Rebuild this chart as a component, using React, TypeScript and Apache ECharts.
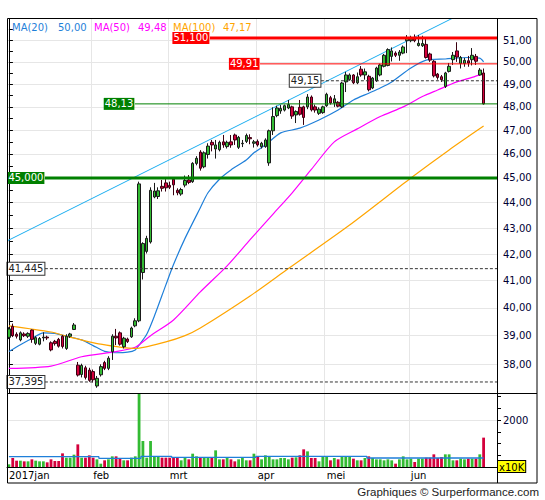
import React, { useEffect, useRef } from "react";
import * as echarts from "echarts";

// ---------- data ----------
const monthNames = ["2017jan", "feb", "mrt", "apr", "mei", "jun"];
const tradingDaysPerMonth = [22, 20, 23, 18, 22, 20];
const emptyDaysAfter = 3;

// [open, close, low, high]
const candles: number[][] = [
  // jan
  [38.94, 39.24, 38.88, 39.3], [39.33, 39.0, 38.95, 39.43], [39.05, 38.98, 38.9, 39.12], [38.85, 39.1, 38.8, 39.15],
  [39.06, 39.0, 38.95, 39.12], [38.98, 39.08, 38.92, 39.12], [39.2, 38.87, 38.75, 39.22], [38.73, 38.93, 38.67, 38.98],
  [38.7, 38.9, 38.66, 38.95], [38.92, 38.95, 38.8, 39.12], [38.95, 38.92, 38.85, 39.0], [38.75, 38.5, 38.45, 38.8],
  [38.8, 38.72, 38.65, 38.85], [38.87, 38.63, 38.58, 38.92], [38.98, 38.62, 38.55, 39.02], [38.55, 38.98, 38.5, 39.05],
  [38.98, 39.06, 38.92, 39.1], [39.22, 39.38, 39.2, 39.45], [37.97, 37.63, 37.58, 38.08], [37.65, 37.96, 37.55, 38.02],
  [37.88, 37.55, 37.48, 37.95], [37.8, 37.45, 37.4, 37.88],
  // feb
  [37.75, 37.47, 37.38, 37.82], [37.26, 37.52, 37.2, 37.6], [37.64, 37.92, 37.58, 38.0], [38.06, 37.86, 37.8, 38.12],
  [37.86, 38.21, 37.8, 38.28], [38.44, 38.98, 38.15, 39.05], [38.98, 38.92, 38.67, 39.24], [39.1, 38.7, 38.65, 39.15],
  [38.61, 38.91, 38.55, 38.96], [38.88, 38.79, 38.74, 38.93], [38.96, 39.27, 38.92, 39.32], [39.35, 39.53, 39.3, 39.62],
  [39.53, 44.76, 39.48, 44.85], [41.3, 42.4, 41.04, 42.45], [42.1, 42.6, 42.02, 42.7], [42.46, 44.5, 42.4, 44.62],
  [44.23, 44.47, 44.18, 44.8], [44.25, 44.48, 44.15, 44.62], [44.66, 44.58, 44.45, 44.92], [44.8, 44.6, 44.45, 44.95],
  // mrt
  [44.7, 44.62, 44.55, 44.85], [44.95, 44.72, 44.3, 45.02], [44.5, 44.4, 44.3, 44.58], [44.35, 44.53, 44.28, 44.6],
  [44.71, 44.9, 44.62, 45.1], [44.92, 44.82, 44.75, 45.12], [44.85, 45.6, 44.8, 45.65], [45.6, 45.81, 45.52, 45.9],
  [46.07, 45.4, 45.3, 46.15], [45.46, 46.04, 45.4, 46.1], [45.97, 46.32, 45.8, 46.44], [46.48, 46.37, 46.1, 46.58],
  [46.2, 46.37, 45.8, 46.58], [46.17, 46.48, 46.1, 46.55], [46.5, 46.37, 46.25, 46.79], [46.3, 46.48, 46.22, 46.55],
  [46.5, 46.37, 46.25, 46.79], [46.79, 46.58, 46.37, 46.85], [46.27, 46.69, 46.2, 46.75], [46.42, 46.44, 46.28, 46.58],
  [46.52, 46.77, 46.45, 46.85], [46.68, 46.63, 46.4, 46.82], [46.44, 46.5, 46.26, 46.58],
  // apr
  [46.52, 46.37, 46.3, 46.6], [46.3, 46.44, 46.22, 46.5], [46.3, 46.58, 46.25, 46.65], [45.62, 46.97, 45.5, 47.02],
  [46.97, 47.58, 46.79, 47.98], [47.62, 47.95, 47.55, 48.05], [47.82, 47.93, 47.7, 48.08], [47.86, 48.05, 47.8, 48.1],
  [47.95, 48.1, 47.9, 48.3], [48.0, 47.6, 47.48, 48.05], [47.65, 47.8, 47.3, 47.85], [47.98, 47.68, 47.62, 48.3],
  [48.0, 47.54, 47.22, 48.05], [48.0, 48.43, 47.9, 48.56], [48.43, 47.87, 47.8, 48.5], [48.0, 47.86, 47.75, 48.1],
  [47.72, 47.9, 47.65, 47.98], [47.75, 48.0, 47.7, 48.05],
  // mei
  [48.05, 48.55, 48.0, 48.62], [48.4, 48.17, 48.1, 48.48], [48.17, 48.35, 48.0, 48.52], [48.2, 48.03, 47.98, 48.25],
  [48.0, 49.05, 47.95, 49.1], [49.1, 49.41, 48.65, 49.55], [49.2, 49.41, 49.15, 49.48], [49.41, 49.06, 49.0, 49.45],
  [49.06, 49.33, 49.0, 49.52], [49.67, 49.41, 49.33, 49.81], [49.41, 49.55, 49.2, 49.7], [49.35, 48.75, 48.68, 49.42],
  [48.83, 49.27, 48.78, 49.32], [49.15, 49.72, 49.1, 49.78], [49.41, 49.86, 49.35, 49.92], [49.8, 50.3, 49.75, 50.36],
  [49.84, 50.56, 49.8, 50.62], [50.25, 50.5, 50.02, 50.66], [50.4, 50.3, 50.22, 50.48], [50.3, 50.45, 50.05, 50.54],
  [50.4, 50.68, 50.35, 50.75], [50.97, 51.12, 50.4, 51.23],
  // jun
  [50.97, 51.05, 50.9, 51.2], [51.1, 50.97, 50.9, 51.26], [50.75, 50.85, 50.7, 51.23], [50.74, 50.84, 50.68, 51.2],
  [50.8, 50.2, 50.15, 51.08], [50.36, 50.08, 50.0, 50.42], [50.03, 49.37, 49.3, 50.08], [49.45, 49.3, 49.2, 49.5],
  [49.33, 49.2, 49.1, 49.41], [48.9, 49.5, 48.83, 49.55], [49.57, 49.8, 49.52, 49.95], [50.1, 50.3, 49.86, 50.45],
  [50.5, 50.22, 50.0, 50.9], [49.93, 50.2, 49.7, 50.27], [49.93, 50.07, 49.78, 50.18], [50.05, 49.95, 49.78, 50.27],
  [50.1, 50.3, 49.84, 50.63], [50.25, 50.03, 49.86, 50.36], [49.41, 49.63, 49.38, 49.72], [49.5, 48.13, 48.1, 49.7],
];

// volume, x10K
const volumes: number[] = [
  113, 383, 269, 269, 241, 241, 326, 269, 241, 241, 199, 326, 255, 255, 581, 397, 397, 525, 964, 397, 397, 496,
  397, 326, 142, 284, 326, 454, 454, 355, 284, 284, 397, 454, 3150, 1106, 397, 1106, 454, 454, 397, 397,
  397, 425, 383, 284, 383, 326, 567, 454, 383, 383, 383, 383, 709, 326, 326, 383, 326, 241, 326, 383, 284, 284, 567,
  454, 326, 496, 454, 326, 326, 383, 383, 326, 397, 411, 496, 752, 666, 383, 383, 241, 425,
  425, 284, 383, 326, 425, 425, 425, 355, 284, 284, 383, 454, 383, 326, 326, 284, 326, 284, 142, 326, 454, 326,
  355, 213, 355, 355, 397, 397, 539, 383, 425, 539, 539, 284, 284, 355, 326, 355, 355, 355, 539, 1250,
];

// moving averages: [day index, value]
const ma20: number[][] = [
  [0, 38.44], [3, 38.68], [6, 38.9], [9, 39.1], [12, 39.08], [15, 38.98], [19, 38.85], [22, 38.65], [25, 38.45],
  [28, 38.4], [31, 38.42], [33, 38.5], [34, 38.67], [36, 39.05], [38, 39.7], [41, 40.84], [43, 41.6], [46, 42.6],
  [50, 43.8], [52, 44.4], [55, 44.95], [58, 45.33], [62, 45.74], [64, 46.04], [67, 46.37], [71, 46.88], [76, 47.08],
  [81, 47.43], [86, 47.86], [90, 48.3], [94, 48.6], [97, 48.83], [100, 49.1], [105, 49.72], [109, 50.08],
  [114, 50.13], [120, 50.2], [123, 50.17], [124, 50.0],
];
const ma50: number[][] = [
  [0, 37.86], [11, 37.94], [19, 38.26], [28, 38.44], [33, 38.59], [37, 39.0], [43, 39.56], [50, 40.58], [57, 41.55],
  [63, 42.55], [69, 43.55], [74, 44.4], [79, 45.35], [85, 46.5], [91, 47.05], [97, 47.58], [103, 48.0], [108, 48.45],
  [112, 48.74], [117, 49.1], [121, 49.3], [124, 49.48],
];
const ma100: number[][] = [
  [0, 39.35], [11, 39.13], [15, 38.98], [24, 38.7], [33, 38.55], [41, 38.78], [46, 39.0], [50, 39.27], [63, 40.43],
  [73, 41.45], [89, 43.12], [105, 45.0], [115, 46.16], [124, 47.17],
];
// average volume: [first day, last day, value]
const volumeAverage: number[][] = [
  [0, 23, 438], [24, 34, 370], [35, 42, 455], [43, 64, 411], [65, 93, 454], [94, 124, 383],
];
// trend channel line: [day index, price]
const trendLine: number[][] = [[-0.5, 42.5], [124, 52.76]];

// horizontal levels
const levelValues = [51.1, 49.91, 49.15, 48.13, 45.0, 41.445, 37.395];
const levelDecimals = [3, 2, 2, 2, 3, 3, 3];

const priceLabels = [38, 39, 40, 41, 42, 43, 44, 45, 46, 47, 48, 49, 50, 51];
const priceTickMarks = [37.5, 38, 38.5, 39, 39.5, 40, 40.5, 41, 41.5, 42, 42.5, 43, 43.5, 44, 44.5, 45, 45.5, 46, 46.5, 47, 47.5, 48, 48.5, 49, 49.5, 50, 50.5, 51, 51.5];
const volumeLabels = [2000];
const volumeTickMarks = [500, 1000, 1500, 2000, 2500, 3000];

// ---------- look ----------
const FONT = "DejaVu Sans";
const BLUE = "#1F7FD9";
const MAGENTA = "#FF00FF";
const ORANGE = "#FFA500";
const UP = "#33BB33";
const DOWN = "#D4003C";
const GRID = "#E6E6E6";

// label anchor (day index of the box's right edge), kind, width, dashed
const levelLook = [
  { start: 52.5, kind: "red", width: 3, dashed: false },
  { start: 65.6, kind: "red", width: 1, dashed: false },
  { start: 81.5, kind: "box", width: 1, dashed: true },
  { start: 32.9, kind: "green", width: 1, dashed: false },
  { start: 9.4, kind: "green", width: 3, dashed: false },
  { start: 9.4, kind: "box", width: 1, dashed: true },
  { start: 9.4, kind: "box", width: 1, dashed: true },
];

const comma = (v: number, d: number) => v.toFixed(d).replace(".", ",");

function buildOption() {
  const categories: string[] = [];
  monthNames.forEach((m, k) => {
    for (let d = 1; d <= tradingDaysPerMonth[k]; d++) categories.push(`${m}|${d}`);
  });
  for (let d = 1; d <= emptyDaysAfter; d++) categories.push(`jun|${tradingDaysPerMonth[5] + d}`);
  const monthStarts = categories.map((c, i) => (c.endsWith("|1") ? i : -1)).filter((i) => i >= 0);
  const isMonthStart = (i: number) => monthStarts.indexOf(i) >= 0;
  const xMax = categories.length - 0.5;

  const priceMin = 37.023;
  const priceMax = 51.984;

  const splitX = { show: true, interval: (i: number) => isMonthStart(i), lineStyle: { color: GRID, width: 1 } };

  const volData = volumes.map((v, i) => ({
    value: v,
    itemStyle: { color: candles[i][1] >= candles[i][0] ? UP : DOWN },
  }));
  const volAvgData = candles.map((_, i) => {
    const seg = volumeAverage.find((s) => i >= s[0] && i <= s[1]);
    return seg ? seg[2] : null;
  });

  const levelSeries = levelValues.map((v, k) => {
    const look = levelLook[k];
    const col = look.kind === "red" ? "#FF0000" : look.kind === "green" ? "#008000" : "#333333";
    const labelStyle =
      look.kind === "box"
        ? { backgroundColor: "#FFFFFF", color: "#222222", borderColor: "#333333", borderWidth: 1 }
        : { backgroundColor: col, color: "#FFFFFF" };
    return {
      type: "line",
      xAxisIndex: 1,
      yAxisIndex: 0,
      symbol: "rect",
      symbolSize: 1,
      itemStyle: { color: "rgba(0,0,0,0)" },
      silent: true,
      z: 6,
      lineStyle: { color: col, width: look.width, type: look.dashed ? [3, 2] : "solid" },
      label: { show: false },
      data: [
        {
          value: [look.start, v],
          label: {
            show: true,
            position: "left",
            distance: 0,
            formatter: comma(v, levelDecimals[k]),
            fontFamily: FONT,
            fontSize: 10,
            lineHeight: 11,
            padding: [1, 1, 0, 1],
            ...labelStyle,
          },
        },
        { value: [xMax, v] },
      ],
    };
  });

  const maSeries = [
    { data: ma20, color: BLUE },
    { data: ma50, color: MAGENTA },
    { data: ma100, color: ORANGE },
  ].map((m) => ({
    type: "line",
    xAxisIndex: 1,
    yAxisIndex: 0,
    data: m.data,
    symbol: "none",
    smooth: 0.25,
    silent: true,
    z: 2,
    lineStyle: { color: m.color, width: 1.2 },
  }));

  const last = (a: number[][]) => a[a.length - 1][1];
  const legendItems = [
    { x: 12, text: "MA(20)", color: BLUE },
    { x: 58, text: comma(last(ma20), 2), color: BLUE },
    { x: 94, text: "MA(50)", color: MAGENTA },
    { x: 138, text: comma(last(ma50), 2), color: MAGENTA },
    { x: 173, text: "MA(100)", color: ORANGE },
    { x: 223, text: comma(last(ma100), 2), color: ORANGE },
  ];

  return {
    animation: false,
    backgroundColor: "#FFFFFF",
    textStyle: { fontFamily: FONT },
    grid: [
      { left: 7, top: 19, width: 490, height: 374 },
      { left: 7, top: 393, width: 490, height: 74 },
    ],
    xAxis: [
      {
        type: "category",
        gridIndex: 0,
        data: categories,
        boundaryGap: true,
        axisLine: { show: false },
        axisTick: { show: false },
        axisLabel: { show: false },
        splitLine: splitX,
      },
      { type: "value", gridIndex: 0, min: -0.5, max: xMax, show: false },
      {
        type: "category",
        gridIndex: 1,
        data: categories,
        boundaryGap: true,
        axisLine: { show: true, lineStyle: { color: "#000", width: 1 } },
        axisTick: { show: false },
        axisLabel: {
          interval: (i: number) => isMonthStart(i),
          formatter: (v: string) => v.split("|")[0],
          align: "left",
          fontSize: 10,
          fontFamily: FONT,
          color: "#000000",
          margin: 3,
        },
        splitLine: splitX,
      },
    ],
    yAxis: [
      {
        type: "log",
        logBase: 10,
        gridIndex: 0,
        position: "right",
        min: priceMin,
        max: priceMax,
        axisLine: { show: true, lineStyle: { color: "#000" } },
        axisTick: { show: true, customValues: priceTickMarks, length: 4, lineStyle: { color: "#000" } },
        axisLabel: {
          customValues: priceLabels,
          formatter: (v: number) => comma(v, 2),
          fontSize: 10,
          fontFamily: FONT,
          color: "#000033",
          margin: 6,
        },
        splitLine: { show: false },
      },
      {
        type: "log",
        logBase: 10,
        gridIndex: 0,
        position: "right",
        min: priceMin,
        max: priceMax,
        axisLine: { show: false },
        axisTick: { show: false, customValues: priceLabels },
        axisLabel: { show: false, customValues: priceLabels },
        splitLine: { show: true, lineStyle: { color: GRID, width: 1 } },
      },
      {
        type: "value",
        gridIndex: 1,
        position: "right",
        min: 0,
        max: 3150,
        axisLine: { show: true, lineStyle: { color: "#000" } },
        axisTick: { show: true, customValues: volumeTickMarks, length: 4, lineStyle: { color: "#000" } },
        axisLabel: {
          customValues: volumeLabels,
          formatter: (v: number) => String(v),
          fontSize: 10,
          fontFamily: FONT,
          color: "#000033",
          margin: 6,
        },
        splitLine: { show: false },
      },
      {
        type: "value",
        gridIndex: 1,
        position: "right",
        min: 0,
        max: 3150,
        axisLine: { show: false },
        axisTick: { show: false, customValues: volumeLabels },
        axisLabel: { show: false, customValues: volumeLabels },
        splitLine: { show: true, lineStyle: { color: GRID, width: 1 } },
      },
    ],
    series: [
      {
        type: "line",
        xAxisIndex: 1,
        yAxisIndex: 0,
        data: trendLine,
        symbol: "none",
        silent: true,
        z: 2,
        lineStyle: { color: "#19AEF0", width: 1 },
      },
      ...maSeries,
      {
        type: "candlestick",
        xAxisIndex: 0,
        yAxisIndex: 0,
        data: candles,
        barWidth: 3,
        z: 4,
        itemStyle: {
          color: UP,
          color0: DOWN,
          borderColor: "#1A1A1A",
          borderColor0: "#3A0010",
          borderWidth: 1,
        },
      },
      ...levelSeries,
      {
        type: "bar",
        xAxisIndex: 2,
        yAxisIndex: 2,
        data: volData,
        barWidth: 2.8,
        silent: true,
      },
      {
        type: "line",
        xAxisIndex: 2,
        yAxisIndex: 2,
        data: volAvgData,
        step: "middle",
        symbol: "none",
        silent: true,
        z: 5,
        lineStyle: { color: BLUE, width: 1.3 },
      },
    ],
    graphic: [
      ...legendItems.map((l) => ({
        type: "text",
        x: l.x,
        y: 27,
        z: 20,
        style: { text: l.text, fill: l.color, fontSize: 10, fontFamily: FONT, verticalAlign: "middle" },
      })),
      {
        type: "rect",
        z: 30,
        shape: { x: 7.5, y: 18.5, width: 529.5, height: 464.5 },
        style: { fill: "none", stroke: "#000", lineWidth: 1 },
      },
      { type: "line", z: 30, shape: { x1: 497.5, y1: 18.5, x2: 497.5, y2: 483 }, style: { stroke: "#000", lineWidth: 1 } },
      { type: "line", z: 30, shape: { x1: 7.5, y1: 393.5, x2: 537, y2: 393.5 }, style: { stroke: "#000", lineWidth: 1 } },
      {
        type: "text",
        x: 498,
        y: 461,
        z: 31,
        style: {
          text: "x10K",
          fill: "#000",
          fontSize: 10,
          fontFamily: FONT,
          backgroundColor: "#FFFF00",
          borderColor: "#000",
          borderWidth: 1,
          padding: [1, 1, 0, 1],
        },
      },
      {
        type: "text",
        x: 539,
        y: 492,
        z: 31,
        style: {
          text: "Graphiques \u00A9 Surperformance.com",
          fill: "#222",
          fontSize: 11.5,
          fontFamily: "Liberation Sans",
          align: "right",
          verticalAlign: "middle",
        },
      },
    ],
  };
}

export default function App() {
  const ref = useRef<HTMLDivElement>(null);
  useEffect(() => {
    const chart = echarts.init(ref.current as HTMLDivElement, null, { renderer: "svg" });
    chart.setOption(buildOption() as any);
    return () => chart.dispose();
  }, []);
  return <div ref={ref} style={{ position: "absolute", left: 0, top: 0, width: 545, height: 500 }} />;
}
